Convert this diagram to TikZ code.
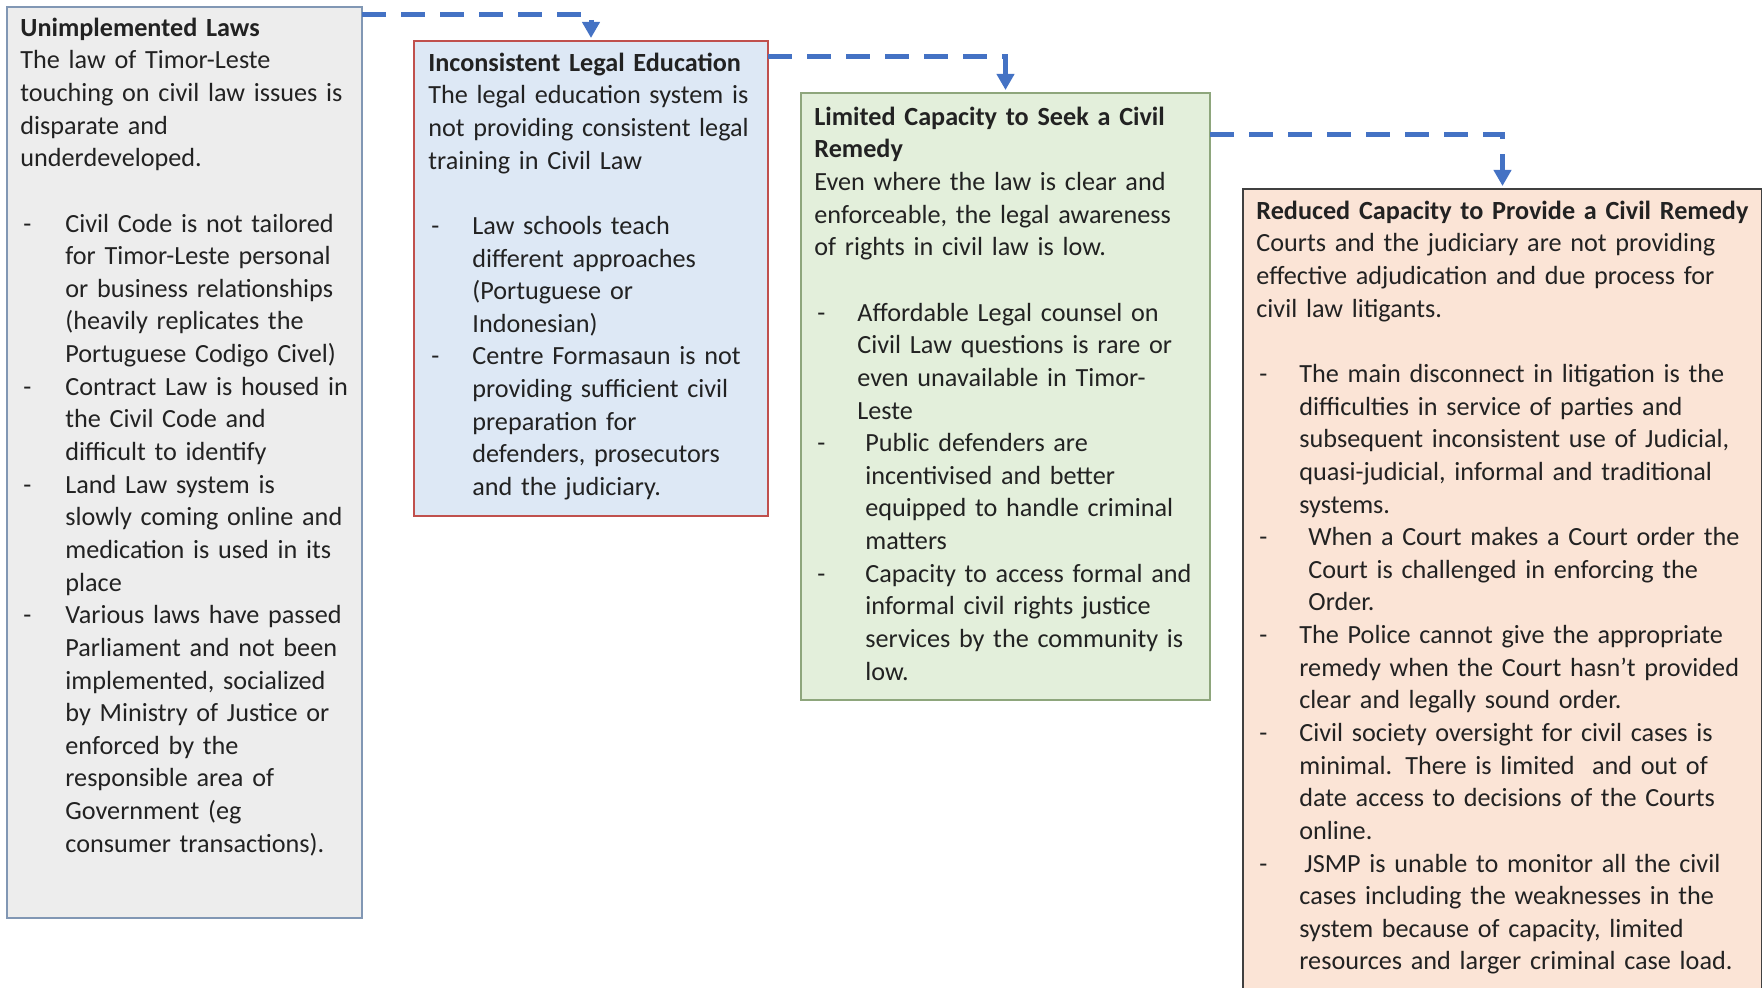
\documentclass[tikz,border=0pt]{standalone}
\usepackage{fontspec}
\setmainfont{Carlito}
\usetikzlibrary{arrows.meta}
\definecolor{textc}{HTML}{222222}
\definecolor{arrowc}{HTML}{4472C4}
\definecolor{fillA}{HTML}{EDEDED}
\definecolor{lineA}{HTML}{8197B4}
\definecolor{fillB}{HTML}{DDE8F5}
\definecolor{lineB}{HTML}{C0504D}
\definecolor{fillC}{HTML}{E3EFDB}
\definecolor{lineC}{HTML}{8EA67C}
\definecolor{fillD}{HTML}{FBE4D6}
\definecolor{lineD}{HTML}{404040}
\newcommand{\ditem}[2]{\par\hangindent=#1\hangafter=1\noindent\makebox[#1][l]{\hspace{1.5pt}-}#2\par}
\newcommand{\gap}{\par\strut\par}
\newcommand{\nl}{\newline}
\begin{document}
\begin{tikzpicture}[x=0.5pt,y=-0.5pt,
  box/.style={draw,line width=0.7pt,inner sep=0pt,outer sep=0pt,anchor=north west},
  txt/.style={anchor=north west,inner sep=0pt,text width=265pt,font=\fontsize{13.1}{16.32}\selectfont,text=textc},
  flow/.style={draw=arrowc,line width=2.5pt,dash pattern=on 12pt off 7.5pt,-{Triangle[width=8.5pt,length=8pt]},shorten >=1.5pt}]
\useasboundingbox (0,0) rectangle (1762,988);
\clip (0,0) rectangle (1762,988);
% boxes
\node[box,fill=fillA,draw=lineA,minimum width=177.5pt,minimum height=455.5pt] (b1) at (7,7) {};
\node[box,fill=fillB,draw=lineB,minimum width=177pt,minimum height=237.5pt] (b2) at (414,41) {};
\node[box,fill=fillC,draw=lineC,minimum width=204.5pt,minimum height=303.5pt] (b3) at (801,93) {};
\node[box,fill=fillD,draw=lineD,minimum width=259.5pt,minimum height=405.5pt] (b4) at (1243,189) {};
% texts
\node[txt] (t1) at (20,13) {\strut\textbf{Unimplemented Laws}\nl
The law of Timor-Leste\nl
touching on civil law issues is\nl
disparate and\nl
underdeveloped.
\gap
\ditem{22.5pt}{Civil Code is not tailored\nl
for Timor-Leste personal\nl
or business relationships\nl
(heavily replicates the\nl
Portuguese Codigo Civel)}
\ditem{22.5pt}{Contract Law is housed in\nl
the Civil Code and\nl
difficult to identify}
\ditem{22.5pt}{Land Law system is\nl
slowly coming online and\nl
medication is used in its\nl
place}
\ditem{22.5pt}{Various laws have passed\nl
Parliament and not been\nl
implemented, socialized\nl
by Ministry of Justice or\nl
enforced by the\nl
responsible area of\nl
Government (eg\nl
consumer transactions).}};
\node[txt] (t2) at (428,48) {\strut\textbf{Inconsistent Legal Education}\nl
The legal education system is\nl
not providing consistent legal\nl
training in Civil Law
\gap
\ditem{22pt}{Law schools teach\nl
different approaches\nl
(Portuguese or\nl
Indonesian)}
\ditem{22pt}{Centre Formasaun is not\nl
providing sufficient civil\nl
preparation for\nl
defenders, prosecutors\nl
and the judiciary.}};
\node[txt] (t3) at (814,102) {\strut\textbf{Limited Capacity to Seek a Civil}\nl
\textbf{Remedy}\nl
Even where the law is clear and\nl
enforceable, the legal awareness\nl
of rights in civil law is low.
\gap
\ditem{21.5pt}{Affordable Legal counsel on\nl
Civil Law questions is rare or\nl
even unavailable in Timor-\nl
Leste}
\ditem{25.5pt}{Public defenders are\nl
incentivised and better\nl
equipped to handle criminal\nl
matters}
\ditem{25.5pt}{Capacity to access formal and\nl
informal civil rights justice\nl
services by the community is\nl
low.}};
\node[txt] (t4) at (1256,196) {\strut\textbf{Reduced Capacity to Provide a Civil Remedy}\nl
Courts and the judiciary are not providing\nl
effective adjudication and due process for\nl
civil law litigants.
\gap
\ditem{21.5pt}{The main disconnect in litigation is the\nl
difficulties in service of parties and\nl
subsequent inconsistent use of Judicial,\nl
quasi-judicial, informal and traditional\nl
systems.}
\ditem{26pt}{When a Court makes a Court order the\nl
Court is challenged in enforcing the\nl
Order.}
\ditem{21.5pt}{The Police cannot give the appropriate\nl
remedy when the Court hasn't provided\nl
clear and legally sound order.}
\ditem{21.5pt}{Civil society oversight for civil cases is\nl
minimal. There is limited \ and out of\nl
date access to decisions of the Courts\nl
online.}
\ditem{21.5pt}{\hspace{2.5pt}JSMP is unable to monitor all the civil\nl
cases including the weaknesses in the\nl
system because of capacity, limited\nl
resources and larger criminal case load.}};
% connectors
\coordinate (y1) at (0,15);
\coordinate (y2) at (0,57);
\coordinate (y3) at (0,135);
\draw[flow] (b1.east |- y1) -| (b2.north);
\draw[flow] (b2.east |- y2) -| (b3.north);
\draw[flow] (b3.east |- y3) -| (b4.north);
\end{tikzpicture}
\end{document}
